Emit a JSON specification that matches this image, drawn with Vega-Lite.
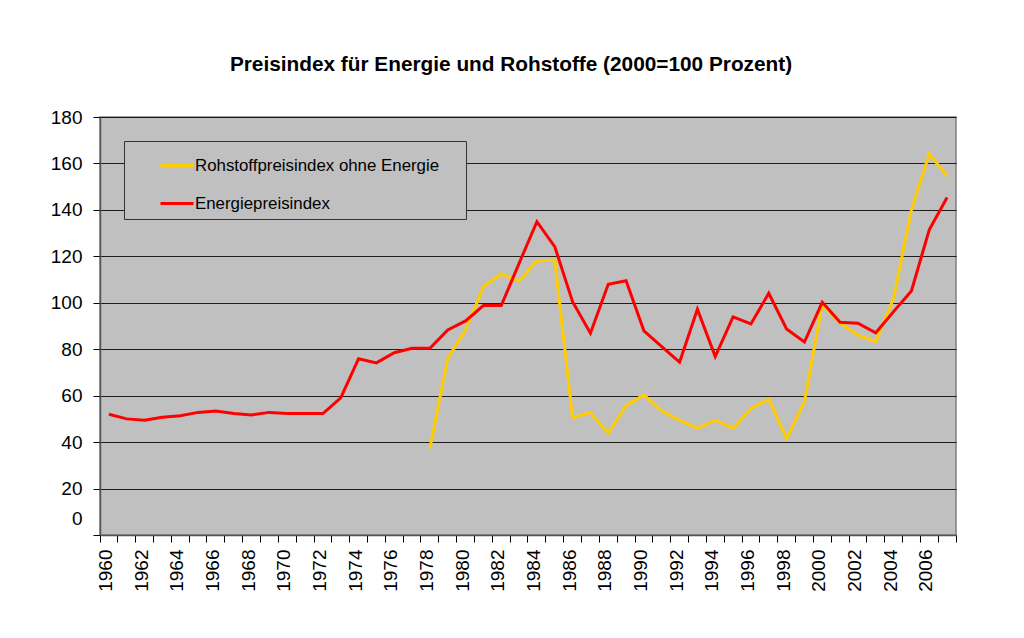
{
  "$schema": "https://vega.github.io/schema/vega-lite/v6.json",
  "autosize": "none",
  "width": 856,
  "height": 418,
  "padding": {"left": 100, "top": 117, "right": 68, "bottom": 103},
  "background": "white",
  "title": {
    "text": "Preisindex für Energie und Rohstoffe (2000=100 Prozent)",
    "font": "Liberation Sans",
    "fontSize": 20.8,
    "fontWeight": "bold",
    "color": "black",
    "anchor": "middle",
    "dx": -17,
    "offset": 32
  },
  "config": {
    "view": {"fill": "#C0C0C0", "stroke": "#808080", "strokeWidth": 1.5},
    "font": "Liberation Sans"
  },
  "data": {
    "values": [
      {"year": 1978, "series": "Rohstoffpreisindex ohne Energie", "value": 37.3},
      {"year": 1979, "series": "Rohstoffpreisindex ohne Energie", "value": 76.1},
      {"year": 1980, "series": "Rohstoffpreisindex ohne Energie", "value": 88.3},
      {"year": 1981, "series": "Rohstoffpreisindex ohne Energie", "value": 106.9},
      {"year": 1982, "series": "Rohstoffpreisindex ohne Energie", "value": 112.4},
      {"year": 1983, "series": "Rohstoffpreisindex ohne Energie", "value": 109.4},
      {"year": 1984, "series": "Rohstoffpreisindex ohne Energie", "value": 118},
      {"year": 1985, "series": "Rohstoffpreisindex ohne Energie", "value": 118.4},
      {"year": 1986, "series": "Rohstoffpreisindex ohne Energie", "value": 50.5},
      {"year": 1987, "series": "Rohstoffpreisindex ohne Energie", "value": 52.8},
      {"year": 1988, "series": "Rohstoffpreisindex ohne Energie", "value": 43.8},
      {"year": 1989, "series": "Rohstoffpreisindex ohne Energie", "value": 55.7},
      {"year": 1990, "series": "Rohstoffpreisindex ohne Energie", "value": 60.3},
      {"year": 1991, "series": "Rohstoffpreisindex ohne Energie", "value": 53.4},
      {"year": 1992, "series": "Rohstoffpreisindex ohne Energie", "value": 49.5},
      {"year": 1993, "series": "Rohstoffpreisindex ohne Energie", "value": 45.9},
      {"year": 1994, "series": "Rohstoffpreisindex ohne Energie", "value": 49.5},
      {"year": 1995, "series": "Rohstoffpreisindex ohne Energie", "value": 45.9},
      {"year": 1996, "series": "Rohstoffpreisindex ohne Energie", "value": 54.5},
      {"year": 1997, "series": "Rohstoffpreisindex ohne Energie", "value": 58.6},
      {"year": 1998, "series": "Rohstoffpreisindex ohne Energie", "value": 41.6},
      {"year": 1999, "series": "Rohstoffpreisindex ohne Energie", "value": 57.4},
      {"year": 2000, "series": "Rohstoffpreisindex ohne Energie", "value": 99.5},
      {"year": 2001, "series": "Rohstoffpreisindex ohne Energie", "value": 91.2},
      {"year": 2002, "series": "Rohstoffpreisindex ohne Energie", "value": 86.1},
      {"year": 2003, "series": "Rohstoffpreisindex ohne Energie", "value": 83.3},
      {"year": 2004, "series": "Rohstoffpreisindex ohne Energie", "value": 101.9},
      {"year": 2005, "series": "Rohstoffpreisindex ohne Energie", "value": 140},
      {"year": 2006, "series": "Rohstoffpreisindex ohne Energie", "value": 164.1},
      {"year": 2007, "series": "Rohstoffpreisindex ohne Energie", "value": 154.6},
      {"year": 1960, "series": "Energiepreisindex", "value": 52.0},
      {"year": 1961, "series": "Energiepreisindex", "value": 50.0},
      {"year": 1962, "series": "Energiepreisindex", "value": 49.4},
      {"year": 1963, "series": "Energiepreisindex", "value": 50.7},
      {"year": 1964, "series": "Energiepreisindex", "value": 51.4},
      {"year": 1965, "series": "Energiepreisindex", "value": 52.8},
      {"year": 1966, "series": "Energiepreisindex", "value": 53.4},
      {"year": 1967, "series": "Energiepreisindex", "value": 52.3},
      {"year": 1968, "series": "Energiepreisindex", "value": 51.7},
      {"year": 1969, "series": "Energiepreisindex", "value": 52.8},
      {"year": 1970, "series": "Energiepreisindex", "value": 52.3},
      {"year": 1971, "series": "Energiepreisindex", "value": 52.3},
      {"year": 1972, "series": "Energiepreisindex", "value": 52.3},
      {"year": 1973, "series": "Energiepreisindex", "value": 59.1},
      {"year": 1974, "series": "Energiepreisindex", "value": 75.9},
      {"year": 1975, "series": "Energiepreisindex", "value": 74.1},
      {"year": 1976, "series": "Energiepreisindex", "value": 78.5},
      {"year": 1977, "series": "Energiepreisindex", "value": 80.4},
      {"year": 1978, "series": "Energiepreisindex", "value": 80.4},
      {"year": 1979, "series": "Energiepreisindex", "value": 88.3},
      {"year": 1980, "series": "Energiepreisindex", "value": 92.2},
      {"year": 1981, "series": "Energiepreisindex", "value": 98.8},
      {"year": 1982, "series": "Energiepreisindex", "value": 98.8},
      {"year": 1983, "series": "Energiepreisindex", "value": 117},
      {"year": 1984, "series": "Energiepreisindex", "value": 134.9},
      {"year": 1985, "series": "Energiepreisindex", "value": 124.2},
      {"year": 1986, "series": "Energiepreisindex", "value": 100.5},
      {"year": 1987, "series": "Energiepreisindex", "value": 86.9},
      {"year": 1988, "series": "Energiepreisindex", "value": 108},
      {"year": 1989, "series": "Energiepreisindex", "value": 109.5},
      {"year": 1990, "series": "Energiepreisindex", "value": 87.9},
      {"year": 1991, "series": "Energiepreisindex", "value": 81.1},
      {"year": 1992, "series": "Energiepreisindex", "value": 74.4},
      {"year": 1993, "series": "Energiepreisindex", "value": 97.2},
      {"year": 1994, "series": "Energiepreisindex", "value": 76.8},
      {"year": 1995, "series": "Energiepreisindex", "value": 93.9},
      {"year": 1996, "series": "Energiepreisindex", "value": 90.9},
      {"year": 1997, "series": "Energiepreisindex", "value": 104.1},
      {"year": 1998, "series": "Energiepreisindex", "value": 88.7},
      {"year": 1999, "series": "Energiepreisindex", "value": 83.1},
      {"year": 2000, "series": "Energiepreisindex", "value": 100.2},
      {"year": 2001, "series": "Energiepreisindex", "value": 91.6},
      {"year": 2002, "series": "Energiepreisindex", "value": 91.2},
      {"year": 2003, "series": "Energiepreisindex", "value": 87.1},
      {"year": 2004, "series": "Energiepreisindex", "value": 96.2},
      {"year": 2005, "series": "Energiepreisindex", "value": 105.1},
      {"year": 2006, "series": "Energiepreisindex", "value": 131.4},
      {"year": 2007, "series": "Energiepreisindex", "value": 145.3}
    ]
  },
  "mark": {"type": "line", "strokeWidth": 3, "strokeJoin": "miter"},
  "encoding": {
    "x": {
      "field": "year",
      "type": "ordinal",
      "bandPosition": 0.5,
      "scale": {
        "type": "band",
        "paddingInner": 0,
        "paddingOuter": 0,
        "domain": [1960,1961,1962,1963,1964,1965,1966,1967,1968,1969,1970,1971,1972,1973,1974,1975,1976,1977,1978,1979,1980,1981,1982,1983,1984,1985,1986,1987,1988,1989,1990,1991,1992,1993,1994,1995,1996,1997,1998,1999,2000,2001,2002,2003,2004,2005,2006,2007]
      },
      "axis": {
        "title": null,
        "bandPosition": 1,
        "tickExtra": true,
        "labelOffset": -3,
        "labelAngle": -90,
        "labelAlign": "right",
        "labelBaseline": "middle",
        "labelExpr": "datum.value % 2 == 0 ? datum.label : ''",
        "labelFont": "Liberation Sans",
        "labelFontSize": 19,
        "labelColor": "black",
        "labelPadding": 7,
        "tickSize": 7,
        "tickColor": "#000000",
        "tickWidth": 1,
        "domainColor": "#555555",
        "domainWidth": 1.5,
        "grid": false,
        "labelOverlap": false
      }
    },
    "y": {
      "field": "value",
      "type": "quantitative",
      "scale": {"domain": [0, 180], "nice": false},
      "axis": {
        "title": null,
        "values": [0, 20, 40, 60, 80, 100, 120, 140, 160, 180],
        "labelFont": "Liberation Sans",
        "labelFontSize": 19,
        "labelColor": "black",
        "labelPadding": 11,
        "labelOffset": {"condition": {"test": "datum.value === 0", "value": -17}, "value": 0},
        "tickSize": 7,
        "tickColor": "#000000",
        "domainColor": "#555555",
        "domainWidth": 1.5,
        "grid": true,
        "gridColor": "#000000",
        "gridWidth": 1,
        "gridOpacity": 0.85
      }
    },
    "color": {
      "field": "series",
      "type": "nominal",
      "scale": {
        "domain": ["Rohstoffpreisindex ohne Energie", "Energiepreisindex"],
        "range": ["#FFCC00", "#FF0000"]
      },
      "legend": {
        "title": "x",
        "titleOrient": "right",
        "titleOpacity": 0,
        "titleFontSize": 10,
        "titlePadding": 14,
        "orient": "none",
        "legendX": 24,
        "legendY": 24,
        "fillColor": "#C0C0C0",
        "strokeColor": "#333333",
        "padding": 6.5,
        "symbolType": "stroke",
        "symbolSize": 1089,
        "symbolStrokeWidth": 3,
        "symbolOffset": 28.5,
        "labelFont": "Liberation Sans",
        "labelFontSize": 16.85,
        "labelColor": "black",
        "labelOffset": 0,
        "rowPadding": 11,
        "labelLimit": 400
      }
    }
  }
}
